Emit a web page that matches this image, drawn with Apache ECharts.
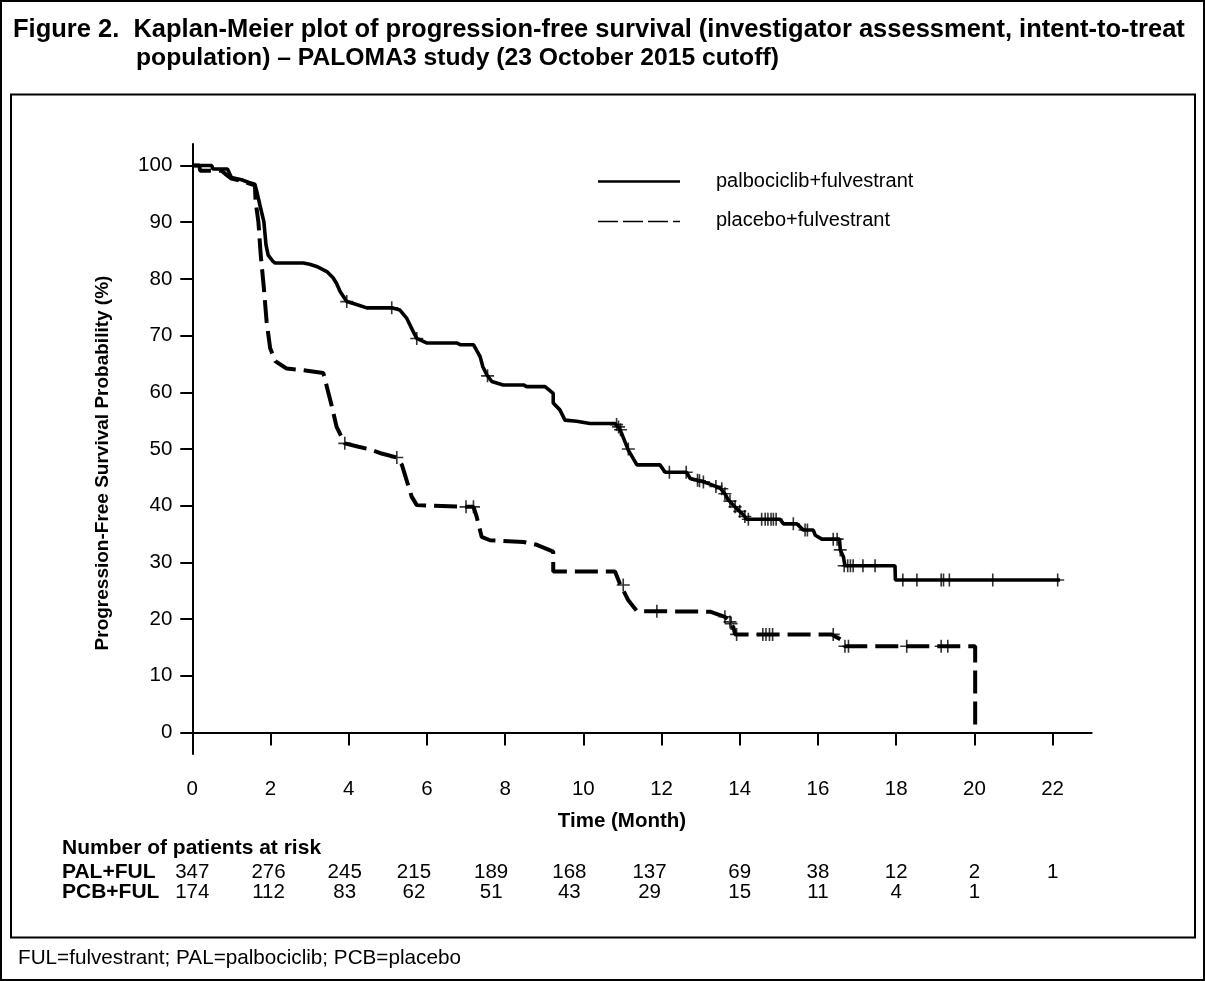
<!DOCTYPE html>
<html><head><meta charset="utf-8">
<script src="https://cdn.jsdelivr.net/npm/echarts@6/dist/echarts.min.js"></script>
<style>html,body{margin:0;padding:0;background:#fff}#c{width:1205px;height:981px}</style>
</head><body><div id="c"></div>
<script>
const palName = 'palbociclib+fulvestrant';
const pcbName = 'placebo+fulvestrant';

const palCurve = [
 [0,100],[0.5,100],[0.52,99.4],[0.9,99.4],[1.0,97.9],[1.26,97.5],[1.45,97.0],[1.6,96.7],
 [1.65,95.4],[1.73,93.0],[1.83,90.1],[1.885,86.0],[1.94,84.2],[2.05,83.2],[2.12,82.8],[2.84,82.8],
 [3.0,82.6],[3.18,82.2],[3.44,81.3],[3.6,80.2],[3.69,79.2],[3.78,77.8],[3.95,76.0],[4.2,75.5],
 [4.46,74.9],[5.1,74.9],[5.31,74.5],[5.48,73.1],[5.65,70.7],[5.74,69.5],[5.99,68.7],[6.76,68.7],
 [6.85,68.4],[7.19,68.4],[7.36,66.3],[7.43,64.5],[7.53,63.1],[7.66,61.9],[7.95,61.3],[8.47,61.3],
 [8.55,61.0],[9.02,61.0],[9.23,59.8],[9.23,58.1],[9.4,56.9],[9.53,55.1],[9.83,54.9],[10.17,54.5],
 [10.81,54.5],[10.93,53.6],[11.15,49.8],[11.37,47.2],[11.96,47.2],[12.09,45.9],[12.64,45.9],
 [12.73,44.8],[12.98,44.4],[13.24,43.8],[13.5,43.1],[13.62,42.1],[13.71,41.0],[13.92,39.5],
 [14.09,38.4],[14.18,37.6],[15.03,37.6],[15.12,36.8],[15.46,36.8],[15.63,35.7],[15.88,35.7],
 [15.93,34.8],[16.1,34.1],[16.55,34.1],[16.57,32.2],[16.65,31.0],[16.69,29.4],[17.97,29.4],
 [17.98,26.9],[22.19,26.9]
];

const pcbCurve = [
 [0,100],[0.18,100],[0.2,99.1],[0.75,99.1],[0.85,98.5],[1.0,97.7],[1.3,97.2],[1.6,96.5],
 [1.62,93.6],[1.69,90.1],[1.75,84.2],[1.83,78.4],[1.9,72.5],[1.99,67.8],[2.12,65.5],[2.41,64.2],
 [2.84,63.9],[3.35,63.4],[3.44,61.0],[3.57,57.5],[3.69,53.9],[3.9,51.0],[4.25,50.4],[4.55,49.9],
 [4.84,49.2],[5.23,48.5],[5.36,47.2],[5.48,44.5],[5.61,41.6],[5.74,40.1],[7.02,39.8],[7.19,39.8],
 [7.27,38.1],[7.4,34.5],[7.61,33.9],[8.47,33.6],[8.81,33.1],[9.23,31.9],[9.23,28.4],[10.81,28.4],
 [10.93,26.3],[11.15,23.3],[11.37,21.4],[13.24,21.3],[13.62,20.4],[13.75,19.5],[13.84,18.5],
 [13.88,17.3],[16.35,17.3],[16.61,16.3],[16.69,15.2],[20.02,15.2],[20.02,0]
];

const palCensor = [
 [3.95,76],[5.1,74.9],[5.74,69.5],[7.55,62.9],[10.85,54.3],[10.9,53.9],[10.95,53.4],[11.15,50],
 [12.2,45.9],[12.63,45.9],[12.92,44.5],[12.97,44.4],[13.07,44.2],[13.39,43.4],[13.54,43.0],
 [13.62,42.1],[13.75,40.8],[13.88,39.8],[14.0,39.0],[14.13,38.1],[14.22,37.6],[14.56,37.6],
 [14.65,37.6],[14.72,37.6],[14.8,37.6],[14.86,37.6],[14.93,37.6],[15.37,36.8],[15.67,35.7],
 [15.73,35.7],[16.39,34.1],[16.49,34.1],[16.57,32.2],[16.67,29.4],[16.76,29.4],[16.83,29.4],
 [16.9,29.4],[17.15,29.4],[17.46,29.4],[18.17,26.9],[18.53,26.9],[19.15,26.9],[19.21,26.9],
 [19.36,26.9],[20.47,26.9],[22.13,26.9]
];

const pcbCensor = [
 [3.9,51],[5.23,48.5],[7.0,39.8],[7.19,39.8],[11.02,26],[11.88,21.4],[13.62,20.4],[13.75,19.5],
 [13.78,19.2],[13.92,17.3],[14.59,17.3],[14.67,17.3],[14.76,17.3],[14.84,17.3],[16.39,17.3],
 [16.69,15.2],[16.78,15.2],[18.27,15.2],[19.15,15.2],[19.32,15.2]
];

const xTicks = [0,2,4,6,8,10,12,14,16,18,20,22];
const yTicks = [0,10,20,30,40,50,60,70,80,90,100];

const riskTitle = 'Number of patients at risk';
const riskRowLabels = ['PAL+FUL','PCB+FUL'];
const palRisk = [347,276,245,215,189,168,137,69,38,12,2,1];
const pcbRisk = [174,112,83,62,51,43,29,15,11,4,1];

const titleLine1 = 'Figure 2.  Kaplan-Meier plot of progression-free survival (investigator assessment, intent-to-treat';
const titleLine2 = 'population) \u2013 PALOMA3 study (23 October 2015 cutoff)';
const footnote = 'FUL=fulvestrant; PAL=palbociclib; PCB=placebo';

// ---- layout / style ----
const FONT = '"Liberation Sans", Arial, Helvetica, sans-serif';
const riskColShift = [0,-2,-4,-13,-14,-14,-12,0,0,0,0,0];
const plusPath = 'path://M-0.8,-6.5 L0.8,-6.5 L0.8,-0.8 L6.5,-0.8 L6.5,0.8 L0.8,0.8 L0.8,6.5 L-0.8,6.5 L-0.8,0.8 L-6.5,0.8 L-6.5,-0.8 L-0.8,-0.8 Z';

const chart = echarts.init(document.getElementById('c'), null, {renderer:'canvas'});

chart.setOption({
  animation: false,
  backgroundColor: '#fff',
  grid: {left:192.3, right:113.3, top:144, bottom:227, containLabel:false},
  xAxis: {
    type:'value', min:0, max:23,
    axisLine:{show:true, lineStyle:{color:'#000', width:2}},
    splitLine:{show:false},
    axisTick:{show:true, customValues:xTicks, length:13, lineStyle:{color:'#000', width:2}},
    axisLabel:{show:true, customValues:xTicks, margin:25, fontSize:20.5, color:'#000', fontFamily:FONT},
    name:'Time (Month)', nameLocation:'middle', nameGap:57,
    nameTextStyle:{color:'#000', fontSize:20.5, fontWeight:'bold', fontFamily:FONT, padding:[0,40,0,0]}
  },
  yAxis: {
    type:'value', min:-3.8, max:103.8,
    axisLine:{show:true, lineStyle:{color:'#000', width:2}},
    splitLine:{show:false},
    axisTick:{show:true, customValues:yTicks, length:12, lineStyle:{color:'#000', width:2}},
    axisLabel:{show:true, customValues:yTicks, margin:20, fontSize:20.5, color:'#000', fontFamily:FONT},
    name:'Progression-Free Survival Probability (%)', nameLocation:'middle', nameGap:80,
    nameTextStyle:{color:'#000', fontSize:19, fontWeight:'bold', fontFamily:FONT, padding:[0,28,0,0]}
  },
  series: [
    {name:palName, type:'line', data:palCurve, symbol:'none', showSymbol:false, color:'#000',
     lineStyle:{color:'#000', width:3.6, type:'solid'}, z:3},
    {name:pcbName, type:'line', data:pcbCurve, symbol:'none', showSymbol:false, color:'#000',
     lineStyle:{color:'#000', width:4, type:[23,8]}, z:3},
    {name:'palCensor', type:'scatter', data:palCensor, symbol:plusPath, symbolSize:13,
     itemStyle:{color:'#000'}, silent:true, z:4},
    {name:'pcbCensor', type:'scatter', data:pcbCensor, symbol:plusPath, symbolSize:13,
     itemStyle:{color:'#000'}, silent:true, z:4}
  ]
});

const g = [];
g.push({type:'rect', shape:{x:1, y:1, width:1203, height:979}, style:{fill:'none', stroke:'#000', lineWidth:2}, silent:true});
g.push({type:'rect', shape:{x:11, y:94.5, width:1184, height:843}, style:{fill:'none', stroke:'#000', lineWidth:2}, silent:true});
g.push({type:'text', x:13, y:30, style:{text:titleLine1, font:'bold 25.5px '+FONT, fill:'#000', textVerticalAlign:'middle'}});
g.push({type:'text', x:136, y:58, style:{text:titleLine2, font:'bold 24.7px '+FONT, fill:'#000', textVerticalAlign:'middle'}});
// legend
g.push({type:'line', shape:{x1:598, y1:181.5, x2:680, y2:181.5}, style:{stroke:'#000', lineWidth:2.3}, silent:true});
g.push({type:'line', shape:{x1:598, y1:221.5, x2:680, y2:221.5}, style:{stroke:'#000', lineWidth:1.5, lineDash:[20,5]}, silent:true});
g.push({type:'text', x:716, y:181, style:{text:palName, font:'20px '+FONT, fill:'#000', textVerticalAlign:'middle'}});
g.push({type:'text', x:716, y:220, style:{text:pcbName, font:'20px '+FONT, fill:'#000', textVerticalAlign:'middle'}});
// risk table
g.push({type:'text', x:62, y:848, style:{text:riskTitle, font:'bold 21px '+FONT, fill:'#000', textVerticalAlign:'middle'}});
g.push({type:'text', x:62, y:872, style:{text:riskRowLabels[0], font:'bold 21px '+FONT, fill:'#000', textVerticalAlign:'middle'}});
g.push({type:'text', x:62, y:892, style:{text:riskRowLabels[1], font:'bold 21px '+FONT, fill:'#000', textVerticalAlign:'middle'}});
xTicks.forEach(function(t, i){
  const px = chart.convertToPixel({xAxisIndex:0}, t) + riskColShift[i];
  if (palRisk[i] !== undefined) g.push({type:'text', x:px, y:872, style:{text:String(palRisk[i]), font:'20.5px '+FONT, fill:'#000', textAlign:'center', textVerticalAlign:'middle'}});
  if (pcbRisk[i] !== undefined) g.push({type:'text', x:px, y:892, style:{text:String(pcbRisk[i]), font:'20.5px '+FONT, fill:'#000', textAlign:'center', textVerticalAlign:'middle'}});
});
g.push({type:'text', x:18, y:958, style:{text:footnote, font:'20.7px '+FONT, fill:'#000', textVerticalAlign:'middle'}});

chart.setOption({graphic: g});
</script>
</body></html>
